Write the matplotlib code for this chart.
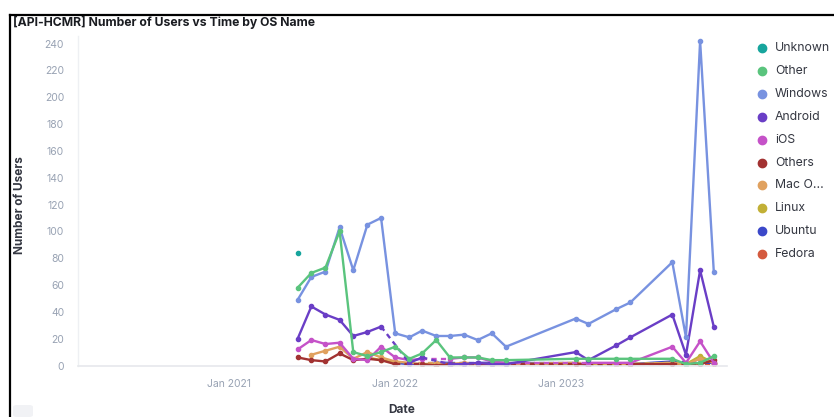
import numpy as np
import pandas as pd
import matplotlib
matplotlib.use("Agg")
import matplotlib.pyplot as plt
from matplotlib.lines import Line2D
from matplotlib.patches import FancyBboxPatch

N = None
dates = ["2021-06", "2021-07", "2021-08", "2021-09", "2021-10", "2021-11", "2021-12",
         "2022-01", "2022-02", "2022-03", "2022-04", "2022-05", "2022-06", "2022-07",
         "2022-08", "2022-09", "2023-02", "2023-03", "2023-05", "2023-06", "2023-09",
         "2023-10", "2023-11", "2023-12"]

unknown = [84] + [N] * 23
other   = [58, 69, 73, 100, 10, 7, 10, 14, 5, 9, 19, 6, 6, 6, 4, 4, 5, 5, 5, 5, 5, 1, 2, 7]
windows = [49, 66, 70, 103, 71, 105, 110, 24, 21, 26, 22, 22, 23, 19, 24, 14, 35, 31, 42, 47, 77, 21, 242, 70]
android = [20, 44, 38, 34, 22, 25, 29, N, 2, 6, N, 1, 1, 2, 1, 1, 10, 4, 15, 21, 38, 8, 71, 29]
ios     = [12, 19, 16, 17, 5, 4, 14, 6, 4, 5, N, 5, 6, 6, 3, 2, N, 2, 2, 2, 14, 2, 18, 2]
others  = [6, 4, 3, 9, 4, 5, 4, 1, N, 1, 0, 1, N, 1, 1, N, 1, 1, N, 1, 1, N, 1, 4]
macos   = [N, 8, 11, 14, 5, 10, 6, 3, 2, N, 2, 1, 2, N, 1, 1, 2, N, 1, 1, 2, 1, 5, 2]
linux   = [N, N, N, N, N, 6, 4, 2, N, 1, 1, 0, N, 1, 1, 1, N, 1, 1, N, 2, 1, 7, 2]
ubuntu  = [N, N, N, N, N, N, N, 2, 1, N, 2, 2, N, 2, 2, N, 2, 0, N, 1, 3, N, 2, 2]
fedora  = [N, N, N, N, N, N, N, 1, N, 1, 1, N, 1, 1, N, 1, 1, N, 1, 1, N, 1, N, 1]

names = ["Unknown", "Other", "Windows", "Android", "iOS", "Others", "Mac O...",
         "Linux", "Ubuntu", "Fedora"]
series = [unknown, other, windows, android, ios, others, macos, linux, ubuntu, fedora]
colors = ["#17a59d", "#5ac47d", "#7892e0", "#6a3ec6", "#c552c8", "#a23232",
          "#e0a15f", "#c2b036", "#3b48c9", "#d45a3f"]

yticks = [0, 20, 40, 60, 80, 100, 120, 140, 160, 180, 200, 220, 240]
xticks = ["2021-01-01", "2022-01-01", "2023-01-01"]
xticklabels = ["Jan 2021", "Jan 2022", "Jan 2023"]

W, H = 834, 417
fig = plt.figure(figsize=(W / 100, H / 100), dpi=100)
fig.patch.set_facecolor("white")

ax_l, ax_r, ax_b, ax_t = 78, 727, 365.5, 35.5
ax = fig.add_axes([ax_l / W, 1 - ax_b / H, (ax_r - ax_l) / W, (ax_b - ax_t) / H])

x = pd.to_datetime(dates)
for name, vals, col in reversed(list(zip(names, series, colors))):
    y = np.array([np.nan if v is None else v for v in vals], dtype=float)
    ok = ~np.isnan(y)
    idx = np.where(ok)[0]
    # dashed connectors only across gaps
    for a, b in zip(idx[:-1], idx[1:]):
        if b - a > 1:
            ax.plot([x[a], x[b]], [y[a], y[b]], color=col, lw=1.7,
                    ls=(0, (2.2, 1.8)), dash_capstyle="butt")
    ax.plot(x, y, color=col, lw=1.7, solid_joinstyle="round")
    ax.plot(x[ok], y[ok], color=col, lw=0, marker="o", ms=3.0)

ax.set_ylim(0, 246)
ax.set_xlim(pd.Timestamp("2020-02-05"), pd.Timestamp("2023-12-30"))
ax.set_yticks(yticks)
ax.set_yticklabels([str(v) for v in yticks])
ax.set_xticks(pd.to_datetime(xticks))
ax.set_xticklabels(xticklabels)
for s in ["top", "right"]:
    ax.spines[s].set_visible(False)
ax.spines["left"].set_color("#eef0f3")
ax.spines["bottom"].set_color("#e6e8ec")
ax.spines["left"].set_linewidth(1)
ax.spines["bottom"].set_linewidth(1.2)
ax.tick_params(axis="both", length=0, labelcolor="#98a2b3", labelsize=7.5)
ax.tick_params(axis="y", pad=10)
ax.tick_params(axis="x", pad=10)
for lab in ax.get_xticklabels() + ax.get_yticklabels():
    lab.set_fontfamily("Inter")

fig.text(13 / W, 1 - 22 / H, "[API-HCMR] Number of Users vs Time by OS Name",
         fontfamily="Inter", fontweight="bold", fontsize=8.8, color="#1a1c21",
         ha="left", va="center")
fig.text(20 / W, 1 - 205 / H, "Number of Users", rotation=90, fontfamily="Inter",
         fontweight="bold", fontsize=8.5, color="#343741", ha="center", va="center")
fig.text(402 / W, 1 - 410 / H, "Date", fontfamily="Inter", fontweight="bold",
         fontsize=8.5, color="#343741", ha="center", va="center")

for i, (name, col) in enumerate(zip(names, colors)):
    yy = 1 - (48 + i * 22.9) / H
    fig.add_artist(Line2D([762 / W], [yy], marker="o", ms=6, color=col, lw=0))
    fig.text(775 / W, yy, name, fontfamily="Inter", fontsize=8.8, color="#343741",
             ha="left", va="center")

# panel frame
fig.add_artist(Line2D([10 / W, 1], [1 - 15 / H, 1 - 15 / H], color="black", lw=1.6))
fig.add_artist(Line2D([10 / W, 10 / W], [0, 1 - 15 / H], color="black", lw=1.6))
fig.add_artist(FancyBboxPatch((13 / W, 0.0), 20 / W, 12 / H,
                              boxstyle="round,pad=0,rounding_size=0.005",
                              transform=fig.transFigure, fc="#f1f2f5", ec="none"))

fig.savefig("out.png", dpi=100)
